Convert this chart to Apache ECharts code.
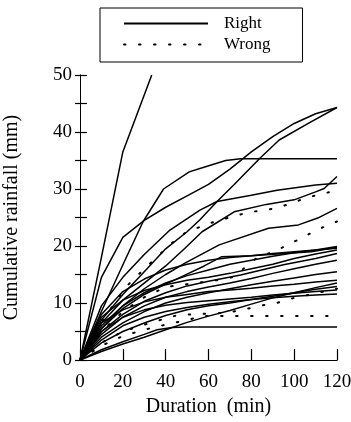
<!DOCTYPE html>
<html><head><meta charset="utf-8">
<script src="https://cdn.jsdelivr.net/npm/echarts@6/dist/echarts.min.js"></script>
<style>html,body{margin:0;padding:0;background:#fff}#c{width:351px;height:422px}</style>
</head><body><div id="c"></div>
<script>
// Axis ranges and tick labels
const xTicks = [0, 20, 40, 60, 80, 100, 120];
const yTicks = [0, 10, 20, 30, 40, 50];

// "Right" (solid) hyetographs: [duration (min), cumulative rainfall (mm)]
const right01 = [[0,0],[10,18],[20,36.5],[33.5,50]];
const right02 = [[0,0],[10,14.5],[20,21.5],[30,24.5],[40,26.8],[50,28.8],[60,30.8],[70,33.5],[80,36.5],[90,39.2],[100,41.5],[110,43.2],[120,44.3]];
const right03 = [[0,0],[10,7],[20,11.5],[30,15.5],[40,19.5],[50,22.5],[56,24.6],[64,27.8],[72,30.8],[84,35.4],[93,38.6],[107,41.6],[120,44.3]];
const right04 = [[0,0],[10,8.5],[21,17.5],[29.5,24.3],[39,30],[51,33],[56,33.6],[68,35],[75,35.3],[120,35.3]];
const right05 = [[0,0],[10,6.5],[20,10.5],[30,13.5],[40,16.5],[49,19.6],[57,22.5],[72,26],[87,27.3],[100,28.1],[110,29.5],[114,30.1],[120,32.2]];
const right06 = [[0,0],[10,9.5],[20,14.5],[30,18.5],[42,22.8],[56,26.3],[64,27.8],[80,28.9],[92,29.8],[110,30.7],[120,31]];
const right07 = [[0,0],[10,5.5],[20,9.5],[30,12.5],[40,15],[49,17],[65,20.2],[88,23.1],[102,23.7],[111,24.9],[120,26.6]];
const right08 = [[0,0],[10,5.5],[20,9],[30,11.5],[40,13.3],[49,14.9],[58,16.5],[66,18.1],[80,18.3],[108,19],[120,19.8]];
const right09 = [[0,0],[10,6],[20,9.5],[30,11.8],[40,13.5],[50,14.8],[60,15.8],[70,16.8],[80,17.5],[90,18.2],[100,18.8],[110,19.3],[120,19.9]];
const right10 = [[0,0],[10,7.5],[20,10.5],[30,12.2],[40,13.2],[50,14],[60,14.5],[70,15.2],[80,16],[90,16.8],[100,17.8],[110,18.6],[120,19.3]];
const right11 = [[0,0],[10,5],[20,8],[30,10.3],[40,11.8],[50,13],[60,13.8],[75,14.9],[95,16.7],[110,17.8],[120,18.7]];
const right12 = [[0,0],[10,4.5],[20,7.5],[30,9.5],[40,11],[50,12],[60,12.8],[70,13.5],[80,14.3],[90,15.2],[100,16],[110,16.8],[120,17.5]];
const right13 = [[0,0],[10,4],[20,6.5],[30,8.5],[40,10],[50,11],[60,11.8],[70,12.5],[80,13.2],[90,13.8],[100,14.4],[110,15],[120,15.5]];
const right14 = [[0,0],[10,6.5],[20,8.8],[30,10.2],[40,11],[50,11.5],[60,12],[70,12.3],[80,12.6],[90,13],[100,13.3],[110,13.7],[120,14]];
const right15 = [[0,0],[10,1.5],[20,2.8],[30,4],[40,5.3],[50,6.6],[60,7.7],[70,8.7],[80,9.8],[90,10.9],[100,11.8],[110,12.7],[120,13.5]];
const right16 = [[0,0],[10,3],[20,5],[30,6.5],[40,7.8],[50,8.8],[60,9.5],[70,10],[80,10.6],[90,11.2],[100,11.8],[110,12.4],[120,12.9]];
const right17 = [[0,0],[10,5],[20,7.5],[30,8.8],[40,9.6],[50,10.1],[60,10.4],[70,10.7],[80,11],[90,11.4],[100,11.7],[110,12],[120,12.3]];
const right18 = [[0,0],[10,3.5],[20,6],[30,7.5],[40,8.5],[50,9.2],[60,9.8],[70,10.2],[80,10.6],[90,10.9],[100,11.2],[110,11.4],[120,11.6]];
const right19 = [[0,0],[10,1.8],[20,3.2],[30,4.5],[36,5.3],[43,5.7],[50,5.8],[120,5.8]];
const right20 = [[0,0],[10,8],[20,12],[30,14.2],[40,15.8],[50,16.8],[60,17.5],[70,18],[80,18.3],[90,18.7],[100,19],[110,19.3],[120,19.6]];

// "Wrong" (dotted) hyetographs
const wrong01 = [[0,0],[10,6.5],[17,10.5],[22.5,13.2],[29.5,15.8],[42.8,20.5],[49.8,22.5],[63.8,24.4],[70.8,25.1],[78.6,25.9],[91.1,26.6],[98.8,27.5],[105.8,28.5],[112.8,29.1],[120,29.8]];
const wrong02 = [[0,0],[10,5],[20,8.5],[30,11],[40,12.8],[50,13.3],[58,13.7],[64,14],[71,14.5],[78,16.5],[83,18.1],[90,18.9],[97,20.2],[104,21.5],[111,22.9],[120,24.3]];
const wrong03 = [[0,0],[10,2.5],[20,4.2],[30,5.3],[40,6.2],[50,7],[57,7.7],[120,7.7]];
const wrong04 = [[0,0],[10,3],[20,5],[30,6.2],[45.7,7.9],[58,8.1],[69,8.3],[77,8.9],[85,9.6],[91,9.9],[99,10.8],[110,11.7],[120,12.5]];

const rightSeries = [right01,right02,right03,right04,right05,right06,right07,right08,right09,right10,right11,right12,right13,right14,right15,right16,right17,right18,right19,right20];
const wrongSeries = [wrong01,wrong02,wrong03,wrong04];

const FONT = 'Liberation Serif';
const series = [];
rightSeries.forEach(d => series.push({
  name: 'Right', type: 'line', data: d, symbol: 'none', silent: true,
  lineStyle: { color: '#000', width: 1.5, type: 'solid' }, itemStyle: { color: '#000' }
}));
wrongSeries.forEach(d => series.push({
  name: 'Wrong', type: 'line', data: d, symbol: 'none', silent: true,
  lineStyle: { color: '#000', width: 2, type: [1.5, 13.5], cap: 'round' }, itemStyle: { color: '#000' }
}));

const chart = echarts.init(document.getElementById('c'), null, { renderer: 'canvas' });
chart.setOption({
  animation: false,
  backgroundColor: '#fff',
  grid: { left: 80, right: 14, top: 75, bottom: 62, containLabel: false, outerBoundsMode: 'none' },
  legend: {
    left: 100, top: 8, orient: 'vertical',
    data: ['Right', 'Wrong'],
    itemWidth: 84, itemHeight: 14, itemGap: 4,
    padding: [7, 32, 9, 23],
    borderColor: '#000', borderWidth: 1, backgroundColor: '#fff',
    selectedMode: false,
    itemStyle: { opacity: 0 },
    textStyle: { fontFamily: FONT, fontSize: 17, color: '#000', padding: [0, 0, 0, 11] }
  },
  xAxis: [{
    type: 'value', min: 0, max: 120, interval: 20, position: 'bottom',
    name: 'Duration  (min)', nameLocation: 'middle', nameGap: 37,
    nameTextStyle: { fontFamily: FONT, fontSize: 20, color: '#000' },
    axisLine: { show: true, lineStyle: { color: '#000', width: 1 } },
    axisTick: { show: true, inside: true, length: 11, lineStyle: { color: '#000', width: 1.2 } },
    axisLabel: { fontFamily: FONT, fontSize: 19, color: '#000', margin: 13,
      formatter: v => xTicks.includes(v) ? String(v) : '' },
    splitLine: { show: false }
  }, {
    type: 'value', min: 0, max: 120, position: 'top',
    axisLine: { show: true, lineStyle: { color: '#000', width: 1 } },
    axisTick: { show: false }, axisLabel: { show: false }, splitLine: { show: false }
  }],
  yAxis: [{
    type: 'value', min: 0, max: 50, interval: 5, position: 'left',
    name: 'Cumulative rainfall (mm)', nameLocation: 'middle', nameGap: 58,
    nameTextStyle: { fontFamily: FONT, fontSize: 20, color: '#000' },
    axisLine: { show: true, lineStyle: { color: '#000', width: 1 } },
    axisTick: { show: true, inside: true, length: 7, lineStyle: { color: '#000', width: 1.2 } },
    axisLabel: { fontFamily: FONT, fontSize: 19, color: '#000', margin: 8,
      formatter: v => yTicks.includes(v) ? String(v) : '' },
    splitLine: { show: false }
  }, {
    type: 'value', min: 0, max: 50, interval: 5, position: 'right',
    axisLine: { show: true, lineStyle: { color: '#000', width: 1 } },
    axisTick: { show: true, inside: true, length: 5, lineStyle: { color: '#000', width: 1.2 } },
    axisLabel: { show: false }, splitLine: { show: false }
  }],
  series: series
});
</script></body></html>
